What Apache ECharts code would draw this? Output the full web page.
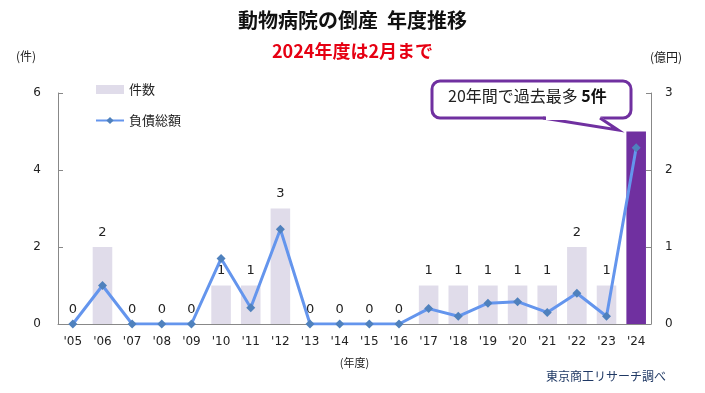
<!DOCTYPE html>
<html><head><meta charset="utf-8">
<script src="https://cdn.jsdelivr.net/npm/echarts@6/dist/echarts.min.js"></script>
<style>html,body{margin:0;padding:0;background:#fff}#c{width:705px;height:393px}</style>
</head><body><div id="c"></div>
<script>
const categories = ["'05","'06","'07","'08","'09","'10","'11","'12","'13","'14","'15","'16","'17","'18","'19","'20","'21","'22","'23","'24"];
const counts = [0,2,0,0,0,1,1,3,0,0,0,0,1,1,1,1,1,2,1,5];
const debt = [0,0.50,0,0,0,0.85,0.21,1.23,0,0,0,0,0.20,0.10,0.27,0.29,0.15,0.40,0.10,2.29];
const leftTicks = [0,2,4,6];
const rightTicks = [0,1,2,3];

const F = '"DejaVu Sans","Noto Sans CJK JP",sans-serif';
const FJ = '"Noto Sans CJK JP","DejaVu Sans",sans-serif';
const chart = echarts.init(document.getElementById('c'));
const last = counts.length - 1;
const P = '#7030a0';
chart.setOption({
  animation: false,
  backgroundColor: '#fff',
  title: [
    {text: '動物病院の倒産  年度推移', left: 'center', top: 5, textStyle: {fontFamily: FJ, fontSize: 20, fontWeight: 'bold', color: '#111'}},
    {text: '2024年度は2月まで', left: 'center', top: 37, textStyle: {fontFamily: FJ, fontSize: 18, fontWeight: 'bold', color: '#e60012'}}
  ],
  legend: {
    orient: 'vertical', left: 90, top: 78, itemGap: 18, itemWidth: 28, itemHeight: 9,
    textStyle: {fontFamily: FJ, fontSize: 13, color: '#222'},
    data: [{name: '件数', icon: 'rect'}, {name: '負債総額'}]
  },
  grid: {left: 58, right: 54, top: 93, bottom: 69},
  xAxis: {
    type: 'category', data: categories,
    axisLine: {lineStyle: {color: '#888'}},
    axisTick: {inside: true, length: 4, lineStyle: {color: '#888'}},
    axisLabel: {fontFamily: F, fontSize: 12, color: '#222', margin: 12},
    name: '(年度)', nameLocation: 'middle', nameGap: 33,
    nameTextStyle: {fontFamily: FJ, fontSize: 11, color: '#222'}
  },
  yAxis: [
    {type: 'value', min: leftTicks[0], max: leftTicks[leftTicks.length-1], interval: 2,
     name: '(件)', nameLocation: 'end', nameGap: 31, nameTextStyle: {fontFamily: FJ, fontSize: 12, color: '#222', align: 'center', padding: [0, 64, 0, 0]},
     axisLine: {show: true, lineStyle: {color: '#888'}},
     axisTick: {show: true, inside: true, length: 5, lineStyle: {color: '#888'}},
     splitLine: {show: false},
     axisLabel: {fontFamily: F, fontSize: 12, color: '#222', margin: 17}},
    {type: 'value', min: rightTicks[0], max: rightTicks[rightTicks.length-1], interval: 1,
     name: '(億円)', nameLocation: 'end', nameGap: 30, nameTextStyle: {fontFamily: FJ, fontSize: 12, color: '#222', align: 'center', padding: [0, 0, 0, 30]},
     axisLine: {show: true, lineStyle: {color: '#888'}},
     axisTick: {show: true, inside: true, length: 5, lineStyle: {color: '#888'}},
     splitLine: {show: false},
     axisLabel: {fontFamily: F, fontSize: 12, color: '#222', margin: 14}}
  ],
  series: [
    {name: '件数', type: 'bar', yAxisIndex: 0, barWidth: '66%',
     itemStyle: {color: '#e0dcea'},
     data: counts.map((v, i) => i === last
        ? {value: v, itemStyle: {color: P}, label: {show: false}}
        : v),
     label: {show: true, position: 'top', distance: 8, fontFamily: F, fontSize: 13, color: '#222'}
    },
    {name: '負債総額', type: 'line', yAxisIndex: 1, data: debt,
     symbol: 'diamond', symbolSize: 9,
     lineStyle: {color: '#6495ed', width: 3},
     itemStyle: {color: '#4f81bd'}, z: 5}
  ],
  graphic: [
    {type: 'rect', z: 100, shape: {x: 432, y: 81, width: 199, height: 37, r: 8},
     style: {fill: '#fff', stroke: P, lineWidth: 3}},
    {type: 'polygon', z: 101, shape: {points: [[545,116],[618,130],[600,116]]},
     style: {fill: '#fff', stroke: null}},
    {type: 'polyline', z: 102, shape: {points: [[543,118],[618,130],[600,118]]},
     style: {fill: null, stroke: P, lineWidth: 3}},
    {type: 'line', z: 102, shape: {x1: 546, y1: 118, x2: 599, y2: 118},
     style: {stroke: '#fff', lineWidth: 4}},
    {type: 'text', z: 103, left: 448, top: 88,
     style: {text: '{a|20年間で過去最多 }{b|5件}', rich: {
        a: {fontFamily: FJ, fontSize: 16, fill: '#222'},
        b: {fontFamily: FJ, fontSize: 16, fontWeight: 'bold', fill: '#111'}}}},
    {type: 'text', left: 546, top: 370,
     style: {text: '東京商工リサーチ調べ', fontFamily: FJ, fontSize: 12, fill: '#1f3864'}}
  ]
});
</script></body></html>
